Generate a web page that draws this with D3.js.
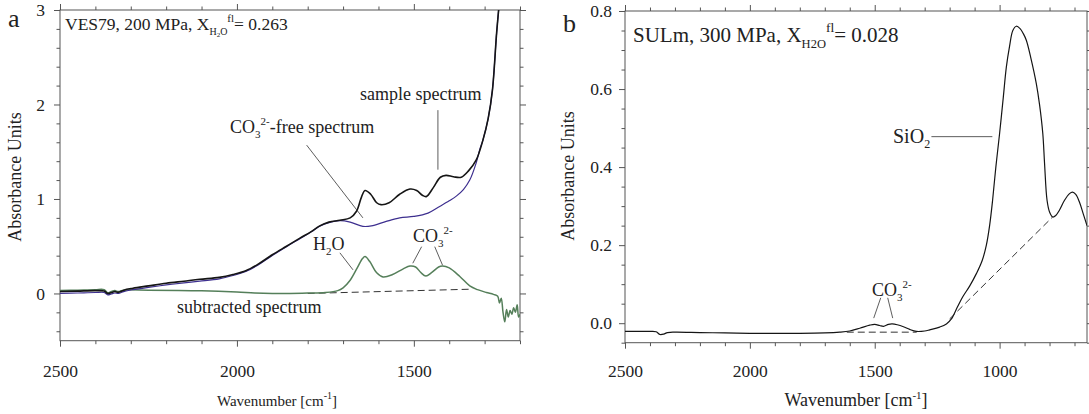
<!DOCTYPE html>
<html>
<head>
<meta charset="utf-8">
<script src="https://cdn.jsdelivr.net/npm/d3@7"></script>
<style>
  body { margin: 0; background: #fff; }
  svg text { font-family: "Liberation Serif", "DejaVu Serif", serif; }
</style>
</head>
<body>
<div id="chart"></div>
<script>
// panel a: sample spectrum, CO3-free spectrum and the difference between the two
const sampleSpectrum = [
  [2500, 0.02], [2450, 0.025], [2400, 0.03], [2375, 0.025], [2365, 0.0], [2355, 0.01],
  [2345, 0.02], [2335, 0.012], [2320, 0.035], [2294, 0.055], [2250, 0.08], [2200, 0.108],
  [2150, 0.13], [2105, 0.15], [2050, 0.17], [2011, 0.2], [1975, 0.24], [1940, 0.31],
  [1900, 0.41], [1860, 0.5], [1822, 0.585], [1790, 0.655], [1766, 0.715], [1740, 0.755],
  [1709, 0.775], [1680, 0.8], [1662, 0.87], [1648, 1.02], [1638, 1.09], [1622, 1.05],
  [1605, 0.96], [1593, 0.94], [1570, 0.96], [1540, 1.05], [1511, 1.105], [1492, 1.09],
  [1476, 1.04], [1465, 1.025], [1445, 1.12], [1425, 1.23], [1409, 1.25], [1388, 1.235],
  [1366, 1.23], [1345, 1.3], [1324, 1.41], [1305, 1.62], [1290, 1.85], [1278, 2.15],
  [1266, 2.76], [1258, 3.1]
];
const carbonateFree = [
  [2500, 0.0], [2450, 0.005], [2400, 0.01], [2375, 0.01], [2365, -0.015], [2355, -0.005],
  [2345, 0.005], [2335, 0.0], [2320, 0.02], [2294, 0.04], [2250, 0.065], [2200, 0.09],
  [2150, 0.112], [2105, 0.13], [2050, 0.155], [2011, 0.19], [1975, 0.232], [1940, 0.302],
  [1900, 0.402], [1860, 0.495], [1822, 0.58], [1790, 0.652], [1766, 0.712], [1740, 0.75],
  [1709, 0.77], [1680, 0.755], [1644, 0.71], [1620, 0.715], [1580, 0.76], [1540, 0.8],
  [1500, 0.815], [1460, 0.85], [1427, 0.92], [1400, 0.98], [1380, 1.03], [1360, 1.1],
  [1342, 1.2], [1324, 1.38], [1314, 1.52], [1305, 1.62], [1290, 1.85], [1278, 2.15],
  [1266, 2.76], [1258, 3.1]
];
const subtracted = [
  [2500, 0.03], [2450, 0.035], [2400, 0.04], [2375, 0.04], [2365, 0.005], [2355, 0.02],
  [2345, 0.03], [2335, 0.02], [2320, 0.035], [2250, 0.035], [2100, 0.028], [2000, 0.015],
  [1950, 0.005], [1900, 0.0], [1850, 0.0], [1800, 0.004], [1750, 0.01], [1715, 0.03],
  [1700, 0.06], [1680, 0.14], [1660, 0.27], [1645, 0.37], [1638, 0.39], [1625, 0.34],
  [1605, 0.22], [1587, 0.175], [1560, 0.2], [1530, 0.26], [1511, 0.29], [1495, 0.28],
  [1480, 0.22], [1466, 0.185], [1450, 0.22], [1430, 0.28], [1419, 0.29], [1400, 0.27],
  [1370, 0.18], [1342, 0.08], [1320, 0.04], [1295, 0.01], [1275, -0.01], [1263, -0.03],
  [1258, -0.1], [1253, -0.05], [1248, -0.2], [1243, -0.3], [1238, -0.17], [1233, -0.25],
  [1228, -0.18], [1223, -0.22], [1218, -0.15], [1213, -0.2], [1208, -0.12], [1204, -0.25],
  [1200, -0.22]
];
const baselineA = [[1800, 0.0], [1340, 0.045]];

// panel b: SULm spectrum
const sulmSpectrum = [
  [2500, -0.021], [2400, -0.021], [2375, -0.022], [2360, -0.029], [2345, -0.028],
  [2330, -0.024], [2300, -0.023], [2200, -0.024], [2100, -0.025], [2000, -0.026],
  [1900, -0.026], [1800, -0.026], [1700, -0.025], [1640, -0.023], [1600, -0.02],
  [1560, -0.013], [1520, -0.005], [1500, -0.003], [1480, -0.006], [1465, -0.008],
  [1445, -0.003], [1430, -0.002], [1410, -0.004], [1385, -0.009], [1360, -0.016],
  [1333, -0.021], [1300, -0.02], [1280, -0.017], [1240, -0.01], [1213, -0.002],
  [1193, 0.011], [1170, 0.04], [1148, 0.067], [1120, 0.095], [1093, 0.127], [1070, 0.16],
  [1053, 0.2], [1040, 0.25], [1028, 0.315], [1015, 0.4], [1000, 0.486], [985, 0.58],
  [973, 0.656], [960, 0.71], [947, 0.75], [933, 0.761], [918, 0.755], [905, 0.742],
  [893, 0.725], [875, 0.68], [853, 0.614], [840, 0.56], [827, 0.486], [820, 0.41],
  [810, 0.315], [800, 0.285], [787, 0.272], [775, 0.276], [760, 0.29], [740, 0.315],
  [720, 0.332], [708, 0.336], [695, 0.33], [680, 0.31], [665, 0.28], [650, 0.25]
];
const baselineB1 = [[1612, -0.023], [1332, -0.023]];
const baselineB2 = [[1200, 0.011], [788, 0.272]];

// axis ticks
const xTicksA = d3.range(2500, 1199, -100);
const xLabelsA = [2500, 2000, 1500];
const yTicksA = d3.range(-4, 31).map(i => i / 10).filter((v, i) => i % 2 === 0);
const yLabelsA = [0, 1, 2, 3];
const xTicksB = d3.range(2500, 649, -100);
const xLabelsB = [2500, 2000, 1500, 1000];
const yTicksB = d3.range(-1, 17).map(i => i * 0.05);
const yLabelsB = [0, 0.2, 0.4, 0.6, 0.8];

const fontSize = 18;     // annotations
const tickFont = 17.5;
const serif = "Liberation Serif";
const axisColor = "#555";

const svg = d3.select("#chart").append("svg")
  .attr("width", 1089)
  .attr("height", 414);

// text with sub/superscripts, shift is the baseline offset in px (down is positive)
function richText(g, x, y, parts, size = fontSize, anchor = "start") {
  const t = g.append("text")
    .attr("x", x).attr("y", y)
    .attr("font-family", serif)
    .attr("font-size", size)
    .attr("fill", "#222")
    .attr("text-anchor", anchor);
  let level = 0;
  parts.forEach(p => {
    const shift = p.shift || 0;
    t.append("tspan")
      .attr("dy", shift - level)
      .attr("font-size", p.size || size)
      .text(p.t);
    level = shift;
  });
  return t;
}

function panel(opts) {
  const { x, y, xTicks, xLabels, yTicks, yLabels, yFormat, id } = opts;
  const g = svg.append("g");
  const [l, r] = x.range();
  const [b, t] = y.range();

  g.append("clipPath").attr("id", id)
    .append("rect").attr("x", l).attr("y", t).attr("width", r - l).attr("height", b - t);

  const addAxis = (axisFn, scale, ticks, size, labels, transform, fmt) => {
    const ax = g.append("g")
      .attr("transform", transform)
      .call(axisFn(scale).tickValues(ticks).tickSize(size).tickPadding(opts.pad)
        .tickFormat(labels ? fmt : ""));
    ax.attr("font-family", serif).attr("font-size", tickFont);
    ax.select(".domain").remove();
    ax.selectAll("line").attr("stroke", axisColor);
    ax.selectAll("text").attr("fill", "#222");
    return ax;
  };
  const isMajor = labels => v => labels.some(m => Math.abs(m - v) < 1e-6);
  const minorX = xTicks.filter(v => !isMajor(xLabels)(v));
  const minorY = yTicks.filter(v => !isMajor(yLabels)(v));

  // bottom / top
  addAxis(d3.axisBottom, x, minorX, 3.5, false, `translate(0,${b})`);
  const bx = addAxis(d3.axisBottom, x, xLabels, 6, true, `translate(0,${b})`, d3.format("d"));
  bx.selectAll("text").attr("dy", "1.2em");
  addAxis(d3.axisTop, x, minorX, 3.5, false, `translate(0,${t})`);
  addAxis(d3.axisTop, x, xLabels, 6, false, `translate(0,${t})`);
  // left / right
  addAxis(d3.axisLeft, y, minorY, 3.5, false, `translate(${l},0)`);
  addAxis(d3.axisLeft, y, yLabels, 6, true, `translate(${l},0)`, yFormat);
  addAxis(d3.axisRight, y, minorY, 3.5, false, `translate(${r},0)`);
  addAxis(d3.axisRight, y, yLabels, 6, false, `translate(${r},0)`);

  g.append("rect")
    .attr("x", l).attr("y", t).attr("width", r - l).attr("height", b - t)
    .attr("fill", "none").attr("stroke", axisColor).attr("stroke-width", 1);

  const plot = g.append("g").attr("clip-path", `url(#${id})`);
  return { g, plot };
}

function drawLine(plot, x, y, data, color, width, dash, curve = d3.curveCatmullRom) {
  const line = d3.line().x(d => x(d[0])).y(d => y(d[1])).curve(curve);
  plot.append("path")
    .datum(data)
    .attr("d", line)
    .attr("fill", "none")
    .attr("stroke", color)
    .attr("stroke-width", width)
    .attr("stroke-dasharray", dash || null)
    .attr("stroke-linejoin", "round");
}

function leader(g, x, y, p0, p1) {
  g.append("line")
    .attr("x1", x(p0[0])).attr("y1", y(p0[1]))
    .attr("x2", x(p1[0])).attr("y2", y(p1[1]))
    .attr("stroke", "#333").attr("stroke-width", 0.8);
}

function yTitle(x, y) {
  svg.append("text")
    .attr("transform", `translate(${x},${y}) rotate(-90)`)
    .attr("text-anchor", "middle").attr("font-family", serif)
    .attr("font-size", 18).attr("fill", "#222")
    .text("Absorbance Units");
}

// ---------- panel a ----------
const xa = d3.scaleLinear().domain([2500, 1200]).range([60, 520]);
const ya = d3.scaleLinear().domain([-0.5, 3]).range([340.7, 10]);
const A = panel({ x: xa, y: ya, xTicks: xTicksA, xLabels: xLabelsA, yTicks: yTicksA,
  yLabels: yLabelsA, yFormat: d3.format("d"), id: "clipA", pad: 9 });

drawLine(A.plot, xa, ya, baselineA, "#333", 1, "7,4", d3.curveLinear);
drawLine(A.plot, xa, ya, subtracted, "#557f5a", 1.5);
drawLine(A.plot, xa, ya, carbonateFree, "#3d2f8f", 1.2);
drawLine(A.plot, xa, ya, sampleSpectrum, "#151515", 1.6);

leader(A.g, xa, ya, [1432, 1.94], [1432, 1.31]);
leader(A.g, xa, ya, [1803, 1.57], [1644, 0.80]);
leader(A.g, xa, ya, [1709, 0.43], [1672, 0.25]);
leader(A.g, xa, ya, [1478, 0.495], [1503, 0.32]);
leader(A.g, xa, ya, [1441, 0.495], [1419, 0.30]);

richText(A.g, 65, 30, [
  { t: "VES79, 200 MPa, X" }, { t: "H", size: 10, shift: 5 }, { t: "2", size: 7, shift: 7 },
  { t: "O", size: 10, shift: 5 }, { t: "fl", size: 11, shift: -8 }, { t: "= 0.263", shift: 0 }
], 17.5);
richText(A.g, 360, 100, [{ t: "sample spectrum" }]);
richText(A.g, 230, 133, [
  { t: "CO" }, { t: "3", size: 11, shift: 5 }, { t: "2-", size: 11, shift: -8 },
  { t: "-free spectrum", shift: 0 }
]);
richText(A.g, 313, 250, [{ t: "H" }, { t: "2", size: 11, shift: 5 }, { t: "O", shift: 0 }]);
richText(A.g, 413, 242, [{ t: "CO" }, { t: "3", size: 11, shift: 5 }, { t: "2-", size: 11, shift: -8 }]);
richText(A.g, 177, 313, [{ t: "subtracted spectrum" }]);

svg.append("text").attr("x", 8).attr("y", 27).attr("font-family", serif)
  .attr("font-size", 26).attr("fill", "#222").text("a");
yTitle(21, 177);
richText(svg, 277, 406, [
  { t: "Wavenumber [cm" }, { t: "-1", size: 10, shift: -7 }, { t: "]", shift: 0 }
], 15, "middle");

// ---------- panel b ----------
const xb = d3.scaleLinear().domain([2500, 650]).range([625, 1087]);
const yb = d3.scaleLinear().domain([-0.05, 0.8]).range([342.7, 11]);
const B = panel({ x: xb, y: yb, xTicks: xTicksB, xLabels: xLabelsB, yTicks: yTicksB,
  yLabels: yLabelsB, yFormat: d3.format(".1f"), id: "clipB", pad: 7 });

drawLine(B.plot, xb, yb, baselineB1, "#333", 1, "7,4", d3.curveLinear);
drawLine(B.plot, xb, yb, baselineB2, "#333", 1, "7,4", d3.curveLinear);
drawLine(B.plot, xb, yb, sulmSpectrum, "#151515", 1.2);

leader(B.g, xb, yb, [1476, 0.065], [1504, 0.013]);
leader(B.g, xb, yb, [1448, 0.065], [1428, 0.013]);
leader(B.g, xb, yb, [1273, 0.478], [1029, 0.478]);

richText(B.g, 633, 42, [
  { t: "SULm, 300 MPa, X" }, { t: "H2O", size: 12.5, shift: 6 }, { t: "fl", size: 13.5, shift: -10 },
  { t: "= 0.028", shift: 0 }
], 21);
richText(B.g, 872, 296, [{ t: "CO" }, { t: "3", size: 11, shift: 5 }, { t: "2-", size: 11, shift: -8 }]);
richText(B.g, 893, 143, [{ t: "SiO" }, { t: "2", size: 12, shift: 5 }], 20);

svg.append("text").attr("x", 563).attr("y", 32).attr("font-family", serif)
  .attr("font-size", 26).attr("fill", "#222").text("b");
yTitle(574, 176);
richText(svg, 856, 406, [
  { t: "Wavenumber [cm" }, { t: "-1", size: 11, shift: -7 }, { t: "]", shift: 0 }
], 18, "middle");
</script>
</body>
</html>
